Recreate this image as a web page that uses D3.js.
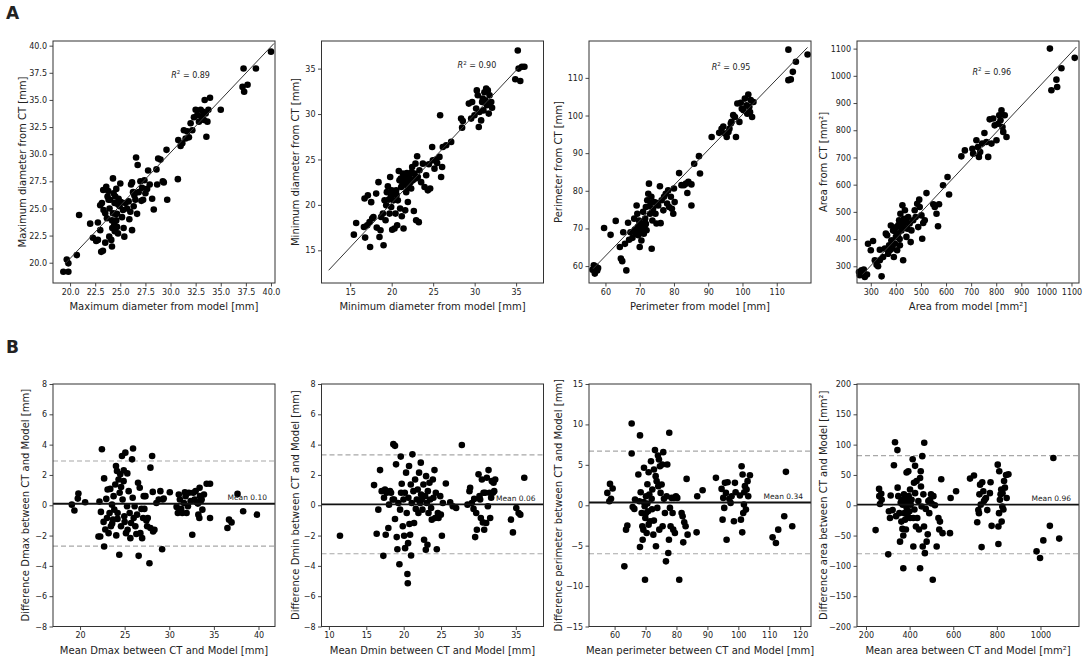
<!DOCTYPE html>
<html><head><meta charset="utf-8">
<script src="https://cdn.jsdelivr.net/npm/d3@7"></script>
<style>
body{margin:0;background:#fff}
svg{display:block}
text{font-family:"DejaVu Sans",sans-serif;fill:#222}
</style>
</head><body>
<svg id="c" width="1084" height="659"></svg>
<script>
// ---------------- DATA ----------------
// Row A: model (x) vs CT (y)
const a1 = [[19.33,19.17],[19.83,19.17],[19.67,20.3],[19.83,19.94],[20.67,20.7],[20.9,24.4],[22.0,23.6],[22.27,22.3],[22.77,22.1],[22.77,23.7],[23.0,23.0],[23.17,25.5],[23.27,21.1],[23.5,21.85],[23.6,27.0],[23.67,24.1],[23.83,25.8],[23.93,25.0],[24.1,22.1],[24.17,21.5],[24.27,27.77],[24.33,26.4],[24.43,25.5],[24.5,24.5],[24.6,23.9],[24.67,23.3],[24.77,22.7],[24.83,25.9],[24.93,25.2],[25.0,27.3],[24.0,25.8],[23.5,24.55],[24.5,26.1],[24.17,23.9],[24.67,24.5],[25.17,24.2],[25.33,23.2],[25.5,25.5],[25.67,25.0],[25.83,25.65],[26.0,24.7],[26.07,27.2],[26.17,23.0],[26.27,26.5],[26.17,27.4],[26.33,25.2],[26.5,25.8],[26.57,29.7],[26.67,24.5],[26.73,29.0],[26.83,26.5],[27.0,27.5],[27.17,26.9],[27.27,25.8],[27.4,27.6],[27.5,26.4],[27.67,26.8],[27.77,28.5],[27.93,27.2],[28.17,25.9],[28.33,24.9],[28.6,28.6],[28.67,27.2],[28.77,29.6],[29.0,29.5],[29.23,27.5],[29.33,27.4],[29.6,30.4],[29.67,25.8],[30.73,27.7],[30.77,31.3],[31.0,30.75],[31.17,31.0],[31.33,32.2],[31.5,31.45],[31.67,32.1],[31.83,31.55],[32.0,32.85],[32.17,32.2],[32.33,33.4],[32.5,34.1],[32.67,33.6],[32.83,33.0],[33.0,34.1],[33.1,33.45],[33.23,33.9],[33.33,33.15],[33.4,35.0],[33.5,33.75],[33.57,31.6],[33.67,33.0],[33.77,34.1],[33.93,35.2],[35.0,34.1],[37.17,36.2],[37.27,37.9],[37.33,35.75],[37.67,36.4],[38.5,37.9],[40.0,39.45],[23.0,25.3],[23.33,24.85],[23.73,26.1],[24.27,24.55],[24.4,23.5],[24.73,25.4],[25.07,25.6],[25.27,24.85],[23.9,22.4],[24.45,22.9],[25.4,22.4],[23.3,26.7],[23.8,26.6],[24.6,26.8],[22.6,22.0],[23.1,21.0],[24.2,23.2],[25.9,24.0],[26.4,26.2],[27.1,25.7]];
const a2 = [[15.44,16.72],[15.72,18.0],[16.65,17.57],[16.8,16.4],[16.73,20.7],[17.13,21.05],[17.05,17.75],[17.4,15.37],[17.33,18.1],[17.53,20.3],[17.65,18.5],[17.8,18.67],[18.13,21.24],[18.2,17.5],[18.41,22.5],[18.53,16.47],[18.65,17.2],[18.73,18.67],[18.94,19.04],[19.02,15.55],[19.14,20.5],[19.26,18.3],[19.34,19.95],[19.42,21.4],[19.54,22.05],[19.66,20.58],[19.74,19.04],[19.82,23.07],[19.94,19.77],[20.06,17.27],[20.14,21.24],[20.22,20.5],[20.34,17.4],[20.46,19.04],[20.54,21.6],[20.66,17.75],[20.74,20.5],[20.86,23.73],[20.94,22.7],[21.02,19.6],[21.14,21.97],[21.22,18.74],[21.35,23.44],[21.43,17.4],[21.55,22.5],[21.63,19.4],[21.75,21.4],[21.83,23.5],[21.95,20.32],[22.07,22.16],[22.15,23.07],[22.27,22.5],[22.35,21.8],[22.47,24.17],[22.55,22.7],[22.67,19.33],[22.75,23.44],[22.87,24.54],[22.95,18.3],[23.07,25.35],[23.15,23.07],[23.27,18.1],[23.35,23.8],[23.55,22.5],[23.76,24.54],[23.96,21.97],[24.16,23.26],[24.36,21.6],[24.48,24.47],[24.64,21.8],[24.88,26.37],[24.96,24.9],[25.16,23.99],[25.36,24.98],[25.48,24.6],[25.76,25.28],[25.84,29.86],[25.96,23.07],[26.08,24.17],[26.16,26.37],[26.57,26.56],[27.17,26.93],[28.37,29.5],[28.49,28.5],[28.57,29.24],[29.3,31.15],[29.7,31.33],[29.58,29.5],[29.98,29.86],[30.18,30.6],[30.26,32.6],[30.38,32.06],[30.5,28.58],[30.58,30.23],[30.78,29.3],[30.9,31.33],[30.98,31.7],[31.06,30.4],[31.18,32.4],[31.3,31.5],[31.39,32.8],[31.47,30.96],[31.59,32.6],[31.7,30.05],[31.8,32.06],[32.0,31.33],[32.1,30.7],[34.9,33.83],[35.2,37.0],[35.3,35.0],[35.5,33.64],[35.7,35.2],[36.0,35.2],[21.1,22.9],[21.3,22.2],[21.6,23.1],[22.0,22.6],[20.6,21.1],[20.0,21.6],[19.9,20.9],[21.9,22.0],[22.4,23.6],[22.9,22.9]];
const a3 = [[56.2,59.0],[56.6,60.2],[57.2,59.9],[57.6,58.85],[56.9,58.0],[57.85,59.5],[59.6,70.1],[61.5,68.3],[63.0,72.0],[64.2,65.05],[64.5,62.0],[64.9,61.3],[65.2,69.0],[65.7,65.9],[66.1,58.85],[66.6,71.5],[66.9,67.0],[67.3,69.0],[67.9,67.5],[68.4,72.6],[68.6,69.7],[68.9,68.6],[69.1,76.1],[69.3,73.9],[69.5,70.4],[69.6,68.2],[69.8,72.1],[70.0,65.05],[70.2,69.5],[70.5,66.8],[70.7,71.3],[71.0,74.4],[71.2,68.6],[71.4,70.4],[71.6,72.6],[71.8,75.7],[72.0,69.5],[72.2,77.5],[72.5,79.2],[72.7,81.9],[73.0,73.9],[73.2,76.8],[73.4,78.4],[73.5,64.6],[73.7,72.1],[73.9,75.2],[74.2,77.0],[74.6,73.9],[74.9,71.3],[75.4,76.1],[75.9,81.2],[76.1,71.4],[76.4,77.5],[76.9,74.8],[77.1,78.4],[77.6,79.2],[78.0,76.6],[78.3,80.1],[78.6,75.7],[79.1,78.4],[79.4,75.2],[79.8,73.9],[80.0,80.6],[80.2,77.0],[81.5,84.7],[82.2,81.5],[82.9,81.5],[83.5,81.9],[83.9,79.4],[84.2,82.4],[85.1,81.7],[85.1,76.1],[85.9,87.2],[87.3,89.2],[87.6,84.6],[91.0,94.3],[93.2,95.4],[93.9,96.5],[94.4,97.1],[94.9,95.2],[95.4,94.3],[95.9,95.6],[96.2,96.5],[96.6,97.9],[96.8,98.3],[97.3,100.1],[97.8,99.6],[98.1,94.3],[98.5,103.2],[99.1,98.3],[99.5,103.4],[99.8,101.8],[100.3,101.4],[100.7,104.5],[101.2,102.7],[101.4,100.5],[101.7,105.6],[102.0,102.3],[102.2,100.9],[102.4,104.1],[102.8,99.6],[103.2,103.6],[113.4,109.4],[113.4,117.5],[114.1,109.6],[114.7,111.6],[115.6,114.3],[119.0,116.2],[70.4,70.6],[71.8,71.2],[72.9,75.9],[74.8,76.8],[69.9,70.9],[70.9,69.6]];
const a4 = [[256,267],[263,285],[269,273],[253,279],[272,288],[276,261],[285,270],[289,383],[300,359],[309,393],[316,322],[323,306],[329,300],[336,322],[336,361],[343,263],[349,334],[356,365],[360,420],[365,414],[369,346],[373,377],[376,359],[380,450],[382,395],[386,365],[389,432],[392,334],[396,383],[400,408],[402,444],[405,359],[409,420],[413,469],[416,377],[418,493],[422,432],[426,524],[429,322],[432,475],[436,506],[440,463],[442,408],[446,438],[449,481],[455,457],[459,389],[462,432],[469,469],[475,506],[479,481],[485,530],[489,444],[493,545],[495,518],[502,487],[505,401],[509,459],[515,469],[522,569],[549,528],[555,518],[562,493],[568,447],[572,528],[588,598],[606,628],[612,564],[661,704],[675,726],[705,732],[708,714],[721,763],[727,738],[731,702],[736,720],[744,751],[753,790],[761,757],[768,702],[774,840],[781,751],[788,843],[794,818],[801,763],[808,824],[812,855],[817,837],[821,873],[825,812],[828,794],[834,855],[841,775],[1014,1100],[1020,947],[1040,986],[1043,959],[1060,1028],[1113,1066],[395,430],[410,452],[425,440],[430,455],[385,395],[370,360],[415,400],[445,460]];

// Regression lines (model value, CT value)
const a1Line = [[19.5,19.9],[40.3,40.2]];
const a2Line = [[12.4,12.8],[35.3,35.1]];
const a3Line = [[56.4,59.3],[119.0,118.1]];
const a4Line = [[267,270],[1120,1106]];
const rSquared = ["0.89","0.90","0.95","0.96"];

// Row B: mean (x) vs difference (y)
const b1 = [[19.08,0.04],[19.37,-0.35],[19.82,0.77],[19.75,0.44],[20.57,0.2],[22.18,0.24],[22.07,-2.06],[22.26,-2.06],[22.34,-0.44],[22.45,3.69],[22.7,-2.72],[22.7,1.77],[22.64,-1.1],[22.83,-1.6],[22.94,0.42],[23.02,-0.84],[23.09,1.04],[23.2,-1.84],[23.31,-0.51],[23.39,1.08],[23.46,-1.39],[23.58,0.04],[23.69,-0.95],[23.76,0.6],[23.84,-0.29],[23.95,1.37],[24.03,2.59],[24.06,-1.99],[24.14,2.26],[24.21,-0.51],[24.32,1.7],[24.4,-3.27],[24.44,0.82],[24.51,2.04],[24.59,-1.39],[24.7,3.25],[24.77,0.38],[24.88,1.59],[24.96,-0.73],[25.08,3.47],[25.15,-1.84],[25.27,-0.07],[25.33,-1.62],[25.45,0.93],[25.56,-0.51],[25.64,-2.17],[25.72,-1.17],[25.83,3.03],[25.9,0.49],[25.94,3.74],[26.01,-0.84],[26.12,-0.07],[26.2,-1.39],[26.31,-1.9],[26.39,-0.62],[26.5,1.48],[26.57,-3.34],[26.69,1.15],[26.76,-1.84],[26.88,-0.24],[26.96,-2.17],[27.07,-0.84],[27.14,0.6],[27.21,-0.24],[27.33,0.6],[27.44,-1.0],[27.52,-1.39],[27.59,-0.84],[27.78,-3.83],[27.89,2.48],[27.89,-1.5],[28.08,3.25],[28.15,0.88],[28.19,-1.73],[28.34,-1.62],[28.56,0.15],[28.82,0.38],[29.0,0.93],[29.2,-2.9],[29.27,0.38],[29.38,0.44],[30.06,0.86],[30.82,-0.11],[30.96,-0.51],[31.07,0.71],[31.19,0.38],[31.34,-0.24],[31.46,-0.51],[31.64,0.15],[31.75,0.86],[31.83,0.6],[31.94,-0.51],[32.09,-0.07],[32.2,0.82],[32.39,0.27],[32.58,-1.95],[32.69,0.82],[32.84,0.38],[32.95,0.93],[33.07,0.2],[33.21,0.11],[33.26,-0.62],[33.37,-0.84],[33.4,1.15],[33.44,0.6],[33.52,0.27],[33.63,0.38],[33.71,-0.29],[33.89,0.71],[34.19,1.42],[34.57,1.42],[34.57,-0.84],[36.52,-1.5],[36.7,-0.95],[36.98,-1.13],[37.65,0.75],[38.28,-0.4],[39.82,-0.62],[24.6,1.2],[24.2,-0.9],[25.0,-1.1],[23.6,-1.2],[24.9,2.3],[25.3,2.1]];
const b2 = [[11.48,-2.01],[16.04,1.33],[16.39,-1.88],[16.61,-0.29],[16.84,2.32],[17.06,0.93],[17.28,-3.34],[17.37,0.49],[17.5,1.04],[17.6,-1.95],[17.73,0.82],[17.95,-1.5],[18.04,0.04],[18.17,0.93],[18.31,0.82],[18.53,0.38],[18.62,4.03],[18.71,0.38],[18.84,3.92],[18.84,-0.91],[18.98,2.7],[19.07,-2.1],[19.16,-2.9],[19.29,0.15],[19.43,-3.89],[19.52,-0.29],[19.61,3.21],[19.65,0.82],[19.74,1.42],[19.88,-1.39],[19.97,0.38],[20.06,-2.01],[20.15,0.82],[20.19,-2.83],[20.32,2.15],[20.41,-0.51],[20.5,-4.54],[20.55,-5.15],[20.59,-2.5],[20.63,0.49],[20.72,2.59],[20.77,-1.24],[20.86,-1.95],[20.95,1.37],[20.99,-3.32],[21.08,0.15],[21.17,3.36],[21.3,0.93],[21.39,-1.17],[21.53,1.7],[21.62,-0.24],[21.75,0.38],[21.88,1.04],[21.97,-0.51],[22.06,2.15],[22.2,0.15],[22.29,2.81],[22.33,0.71],[22.42,0.38],[22.51,-0.29],[22.64,1.37],[22.73,-2.28],[22.87,0.6],[22.96,-2.94],[23.0,1.92],[23.09,0.15],[23.18,-2.61],[23.23,0.93],[23.32,-0.51],[23.45,1.48],[23.54,0.38],[23.67,-0.18],[23.76,-0.95],[23.9,1.7],[23.98,0.49],[24.12,2.32],[24.21,-0.84],[24.3,0.82],[24.43,-2.9],[24.57,-0.51],[24.66,-0.84],[24.89,0.6],[24.97,-0.62],[25.11,-2.01],[25.24,0.15],[25.64,1.44],[26.22,0.2],[26.57,-0.07],[27.02,-0.18],[27.78,3.98],[28.54,0.04],[28.8,0.93],[28.89,1.15],[29.12,0.15],[29.34,-0.24],[29.43,0.42],[29.56,-2.1],[29.7,-0.51],[29.79,-1.62],[30.01,2.04],[30.14,0.6],[30.23,0.38],[30.32,-0.84],[30.46,1.7],[30.59,-1.13],[30.68,0.82],[30.77,-1.62],[30.9,0.82],[31.04,-1.17],[31.12,1.81],[31.26,-0.07],[31.35,2.32],[31.48,0.82],[31.57,-0.84],[31.7,0.49],[31.79,1.59],[31.93,0.82],[32.02,1.48],[32.11,0.93],[32.24,1.7],[34.34,-0.95],[34.61,-1.79],[35.06,-0.18],[35.37,-0.51],[35.6,-0.62],[36.13,1.81]];
const b3 = [[57.65,1.53],[58.51,2.64],[59.37,2.07],[58.3,0.5],[58.84,0.79],[63.15,-7.56],[63.69,-3.02],[64.12,-2.52],[65.52,10.12],[65.52,6.4],[65.84,-0.21],[66.38,-0.45],[66.6,0.7],[67.68,3.8],[68.0,0.5],[68.21,-5.17],[68.21,8.64],[68.43,1.61],[68.75,-0.95],[68.97,-2.6],[69.07,-4.26],[69.29,-3.02],[69.5,4.63],[69.72,-0.12],[69.83,-9.21],[69.93,-1.57],[70.15,1.12],[70.36,-3.43],[70.58,0.21],[70.79,-0.74],[71.0,4.09],[71.22,1.32],[71.44,-1.98],[71.76,5.45],[71.98,0.79],[72.19,1.94],[72.52,-3.64],[72.73,4.42],[73.05,6.82],[73.27,3.6],[73.37,-5.08],[73.59,2.98],[73.8,-0.33],[74.02,6.16],[74.12,2.36],[74.34,5.66],[74.45,-3.02],[74.66,4.83],[74.87,1.53],[75.2,2.56],[75.41,5.04],[75.52,-2.6],[75.73,6.57],[75.95,0.79],[76.27,-0.95],[76.6,-6.94],[76.81,1.12],[77.03,5.04],[77.35,-5.91],[77.57,-4.26],[77.67,8.97],[77.89,-0.33],[78.1,-2.6],[78.42,0.91],[78.75,-0.95],[78.96,-3.02],[79.18,0.91],[79.5,-3.43],[79.83,1.12],[80.26,0.91],[80.9,-9.21],[81.66,-0.95],[81.98,-1.36],[82.2,-4.59],[82.52,-2.11],[82.95,-2.6],[83.28,3.26],[83.6,-3.64],[86.51,-3.35],[86.72,1.12],[88.45,1.86],[92.76,3.39],[94.59,2.02],[94.91,-1.78],[95.13,0.91],[95.45,-0.33],[95.67,2.77],[95.99,1.53],[96.21,-4.26],[96.53,2.85],[97.07,0.79],[97.5,0.29],[97.82,1.12],[98.58,-1.98],[98.9,2.77],[99.12,1.61],[100.52,1.2],[100.84,-1.78],[101.06,4.83],[101.27,-3.35],[101.38,3.8],[101.59,-0.95],[101.81,0.08],[101.92,1.61],[102.13,2.36],[102.46,-0.54],[102.67,1.94],[102.99,2.98],[103.21,1.12],[103.75,3.72],[111.08,-3.97],[112.16,-4.67],[112.91,-3.02],[114.85,-1.36],[115.39,4.13],[117.44,-2.6],[70.1,-1.0],[71.0,-2.4],[72.1,-0.5],[70.6,2.6],[69.4,0.4],[72.7,-1.9]];
const b4 = [[244,-41],[260,27],[261,15],[264,2],[270,19],[272,9],[305,-10],[302,-81],[310,-21],[313,16],[322,-8],[328,66],[333,104],[338,-18],[344,91],[345,29],[348,15],[353,-13],[356,-60],[359,4],[362,-27],[363,9],[367,-39],[368,1],[371,-104],[371,-50],[374,18],[376,-13],[379,-24],[382,10],[383,-40],[386,54],[386,-4],[389,4],[391,-18],[394,56],[396,15],[399,-10],[402,-21],[402,26],[405,1],[409,9],[414,76],[417,-21],[417,-68],[420,37],[422,-7],[425,65],[425,20],[429,-35],[432,40],[435,-21],[440,7],[443,-40],[448,-104],[448,45],[451,56],[452,31],[455,-2],[458,81],[460,-68],[463,18],[466,-35],[467,103],[470,-79],[474,-6],[478,-60],[483,-48],[486,7],[490,-13],[493,9],[498,18],[501,3],[506,-123],[509,15],[516,0],[524,-68],[532,-21],[536,-40],[539,-27],[545,43],[551,-46],[585,-46],[588,12],[613,23],[677,44],[695,49],[710,-28],[715,-8],[718,-13],[720,18],[723,34],[726,1],[730,-69],[733,38],[738,23],[741,7],[746,10],[750,12],[756,-8],[768,20],[771,38],[776,-34],[804,67],[807,-64],[807,-35],[810,-13],[811,56],[814,9],[817,18],[820,26],[822,-27],[825,-2],[826,20],[830,-7],[833,40],[837,29],[842,50],[845,12],[853,51],[982,-76],[998,-87],[1013,-58],[1043,-34],[1059,78],[1086,-55]];

// Bland-Altman statistics
const bMean  = [0.10, 0.06, 0.34, 0.96];
const bUpper = [2.92, 3.32, 6.70, 82];
const bLower = [-2.70, -3.20, -6.00, -80];
const bMeanLabels = ["Mean 0.10","Mean 0.06","Mean 0.34","Mean 0.96"];

// Tick labels
const a1Ticks = [20,22.5,25,27.5,30,32.5,35,37.5,40];
const a2Ticks = [15,20,25,30,35];
const a3Ticks = [60,70,80,90,100,110];
const a4Ticks = [300,400,500,600,700,800,900,1000,1100];
const b1XTicks = [20,25,30,35,40];
const b2XTicks = [10,15,20,25,30,35];
const b3XTicks = [60,70,80,90,100,110,120];
const b4XTicks = [200,400,600,800,1000];
const bDiamYTicks = [-8,-6,-4,-2,0,2,4,6,8];
const b3YTicks = [-15,-10,-5,0,5,10,15];
const b4YTicks = [-200,-150,-100,-50,0,50,100,150,200];

// Axis titles
const aXLabels = ["Maximum diameter from model [mm]","Minimum diameter from model [mm]","Perimeter from model [mm]","Area from model [mm²]"];
const aYLabels = ["Maximum diameter from CT [mm]","Minimum diameter from CT [mm]","Perimeter from CT [mm]","Area from CT [mm²]"];
const bXLabels = ["Mean Dmax between CT and Model [mm]","Mean Dmin between CT and Model [mm]","Mean perimeter between CT and Model [mm]","Mean area between CT and Model [mm²]"];
const bYLabels = ["Difference Dmax between CT and Model [mm]","Difference Dmin between CT and Model [mm]","Difference perimeter between CT and Model [mm]","Difference area between CT and Model [mm²]"];

// ---------------- LAYOUT ----------------
const svg = d3.select("#c");
const lefts = [53, 321.5, 589, 857];
const W = 222;
const rowA = {top: 41, h: 242};
const rowB = {top: 384, h: 242.5};
const f1 = d3.format(".1f"), fd = d3.format("d");

const panelsA = [
  {data:a1, line:a1Line, xd:[18.3,40.4], yd:[18.13,40.43], xt:a1Ticks, yt:a1Ticks, fmt:f1, r2:[0.62,0.14], yl:31},
  {data:a2, line:a2Line, xd:[11.54,38.3], yd:[11.4,38.04], xt:a2Ticks, yt:a2Ticks, fmt:fd, r2:[0.70,0.10], yl:26},
  {data:a3, line:a3Line, xd:[55.2,120], yd:[55.5,119.8], xt:a3Ticks, yt:a3Ticks, fmt:fd, r2:[0.64,0.107], yl:31},
  {data:a4, line:a4Line, xd:[245,1130], yd:[238.6,1128], xt:a4Ticks, yt:a4Ticks, fmt:fd, r2:[0.607,0.128], yl:34}
];
const panelsB = [
  {data:b1, xd:[16.97,41.85], yd:[-8,8], xt:b1XTicks, yt:bDiamYTicks, yl:28},
  {data:b2, xd:[9.01,38.7], yd:[-8,8], xt:b2XTicks, yt:bDiamYTicks, yl:26},
  {data:b3, xd:[51.72,123.5], yd:[-15,15], xt:b3XTicks, yt:b3YTicks, yl:31},
  {data:b4, xd:[158.7,1176.6], yd:[-200,200], xt:b4XTicks, yt:b4YTicks, yl:34}
];

function axesFrame(g, x, y, top, h, left, xt, yt, xf, yf, xlab, ylab, ylOff){
  const xa = g.append("g").attr("transform",`translate(0,${top+h})`)
    .call(d3.axisBottom(x).tickValues(xt).tickFormat(xf).tickSize(3.5).tickPadding(2.5));
  const ya = g.append("g").attr("transform",`translate(${left},0)`)
    .call(d3.axisLeft(y).tickValues(yt).tickFormat(yf).tickSize(3.5).tickPadding(2.5));
  [xa, ya].forEach(a => {
    a.select(".domain").remove();
    a.selectAll(".tick line").attr("stroke","#333").attr("stroke-width",0.9);
    a.selectAll(".tick text").attr("font-size","8px").attr("fill","#222")
      .attr("font-family","DejaVu Sans, sans-serif");
  });
  g.append("rect").attr("x",left).attr("y",top).attr("width",W).attr("height",h)
    .attr("fill","none").attr("stroke","#333").attr("stroke-width",1);
  g.append("text").attr("x",left+W/2).attr("y",top+h+27).attr("text-anchor","middle")
    .attr("font-size","10px").text(xlab);
  g.append("text").attr("transform",`translate(${left-ylOff},${top+h/2}) rotate(-90)`)
    .attr("text-anchor","middle").attr("dy","0.35em").attr("font-size","10px").text(ylab);
}

// Row A
panelsA.forEach((p,i) => {
  const left = lefts[i], top = rowA.top, h = rowA.h;
  const g = svg.append("g");
  const x = d3.scaleLinear().domain(p.xd).range([left, left+W]);
  const y = d3.scaleLinear().domain(p.yd).range([top+h, top]);
  g.append("g").selectAll("circle").data(p.data).join("circle")
    .attr("cx",d=>x(d[0])).attr("cy",d=>y(d[1])).attr("r",3.3).attr("fill","#000");
  g.append("line").attr("x1",x(p.line[0][0])).attr("y1",y(p.line[0][1]))
    .attr("x2",x(p.line[1][0])).attr("y2",y(p.line[1][1]))
    .attr("stroke","#333").attr("stroke-width",1);
  axesFrame(g, x, y, top, h, left, p.xt, p.yt, p.fmt, p.fmt, aXLabels[i], aYLabels[i], p.yl);
  const t = g.append("text").attr("x",left+W*p.r2[0]).attr("y",top+h*p.r2[1]+3)
    .attr("text-anchor","middle").attr("font-size","8px").attr("fill","#333");
  t.append("tspan").attr("font-style","italic").text("R");
  t.append("tspan").attr("font-size","5.5px").attr("dy","-3.5").text("2");
  t.append("tspan").attr("dy","3.5").text(" = " + rSquared[i]);
});

// Row B
panelsB.forEach((p,i) => {
  const left = lefts[i], top = rowB.top, h = rowB.h;
  const g = svg.append("g");
  const x = d3.scaleLinear().domain(p.xd).range([left, left+W]);
  const y = d3.scaleLinear().domain(p.yd).range([top+h, top]);
  [bUpper[i], bLower[i]].forEach(v => {
    g.append("line").attr("x1",left).attr("x2",left+W).attr("y1",y(v)).attr("y2",y(v))
      .attr("stroke","#a8a8a8").attr("stroke-width",1.2).attr("stroke-dasharray","5,3");
  });
  g.append("g").selectAll("circle").data(p.data).join("circle")
    .attr("cx",d=>x(d[0])).attr("cy",d=>y(d[1])).attr("r",3.3).attr("fill","#000");
  g.append("line").attr("x1",left).attr("x2",left+W).attr("y1",y(bMean[i])).attr("y2",y(bMean[i]))
    .attr("stroke","#111").attr("stroke-width",1.8);
  axesFrame(g, x, y, top, h, left, p.xt, p.yt, fd, fd, bXLabels[i], bYLabels[i], p.yl);
  g.append("text").attr("x",left+W-8).attr("y",y(bMean[i])-3.5).attr("text-anchor","end")
    .attr("font-size","7.5px").attr("fill","#333").text(bMeanLabels[i]);
});

// Panel letters
svg.append("text").attr("x",6).attr("y",19).attr("font-family","Liberation Sans, Arial, sans-serif")
  .attr("font-weight","bold").attr("font-size","17px").attr("fill","#000").text("A");
svg.append("text").attr("x",6).attr("y",353).attr("font-family","Liberation Sans, Arial, sans-serif")
  .attr("font-weight","bold").attr("font-size","17px").attr("fill","#000").text("B");
</script>
</body></html>
